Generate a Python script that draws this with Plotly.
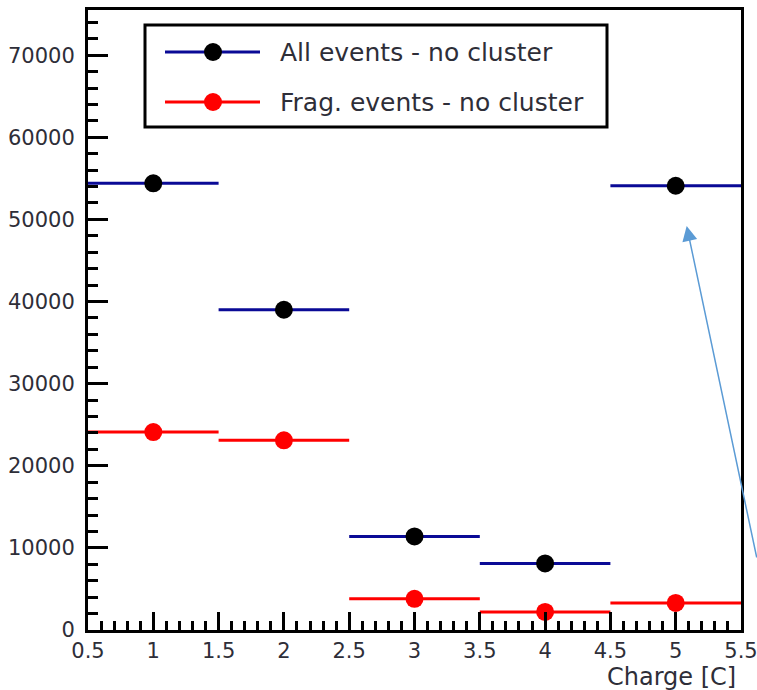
import plotly.graph_objects as go

# Charge bins (bin centres) and bin half-width
charge = [1, 2, 3, 4, 5]
bin_half_width = [0.5, 0.5, 0.5, 0.5, 0.5]

# Event counts per charge bin
all_events = [54400, 39000, 11400, 8100, 54100]
frag_events = [24100, 23100, 3800, 2200, 3300]

series_names = ["All events - no cluster", "Frag. events - no cluster"]

x_tick_vals = [0.5, 1, 1.5, 2, 2.5, 3, 3.5, 4, 4.5, 5, 5.5]
x_tick_text = ["0.5", "1", "1.5", "2", "2.5", "3", "3.5", "4", "4.5", "5", "5.5"]
y_tick_vals = [0, 10000, 20000, 30000, 40000, 50000, 60000, 70000]
y_tick_text = ["0", "10000", "20000", "30000", "40000", "50000", "60000", "70000"]

W, H = 757, 690
L, R, T, B = 88, 16, 10, 60
PW, PH = W - L - R, H - T - B

FONT = "DejaVu Sans"
TEXT_COLOR = "#2e2e38"
NAVY = "#0a0a96"
RED = "#ff0000"


def px_x(p):
    """Horizontal pixel position -> paper coordinate."""
    return (p - L) / PW


def px_y(p):
    """Vertical pixel position -> paper coordinate."""
    return (H - B - p) / PH


fig = go.Figure()

styles = [
    (all_events, NAVY, "#000000", series_names[0]),
    (frag_events, RED, RED, series_names[1]),
]
for values, line_col, mark_col, name in styles:
    fig.add_trace(go.Scatter(
        x=charge, y=values, mode="markers", name=name, showlegend=False,
        marker=dict(color=mark_col, size=18, line=dict(width=0)),
        error_x=dict(type="data", array=bin_half_width, symmetric=True,
                     color=line_col, thickness=3, width=0),
    ))

axis_common = dict(
    showline=True, linewidth=3, linecolor="black", mirror=True,
    ticks="inside", tickwidth=3, tickcolor="black",
    showgrid=False, zeroline=False,
    tickfont=dict(family=FONT, size=21, color=TEXT_COLOR),
    ticklabeloverflow="allow", automargin=False,
)

fig.update_xaxes(
    range=[0.5, 5.5], tickmode="array", tickvals=x_tick_vals, ticktext=x_tick_text,
    ticklen=18,
    minor=dict(dtick=0.1, tick0=0.5, ticks="inside", ticklen=9, tickwidth=2.5,
               tickcolor="black", showgrid=False),
    **axis_common,
)
fig.update_yaxes(
    range=[0, 75500], tickmode="array", tickvals=y_tick_vals, ticktext=y_tick_text,
    ticklen=20, ticklabelstandoff=6,
    minor=dict(dtick=2000, tick0=0, ticks="inside", ticklen=10, tickwidth=2.5,
               tickcolor="black", showgrid=False),
    **axis_common,
)

# Legend box drawn with shapes
shapes = [dict(type="rect", xref="paper", yref="paper",
               x0=px_x(145), x1=px_x(607), y0=px_y(127), y1=px_y(25),
               line=dict(color="black", width=3), fillcolor="white", layer="above")]
annotations = []
for (values, line_col, mark_col, name), row_y in zip(styles, [52, 102]):
    yy = px_y(row_y)
    shapes.append(dict(type="line", xref="paper", yref="paper",
                       x0=px_x(165), x1=px_x(260), y0=yy, y1=yy,
                       line=dict(color=line_col, width=3), layer="above"))
    shapes.append(dict(type="circle", xref="paper", yref="paper",
                       xsizemode="pixel", ysizemode="pixel",
                       xanchor=px_x(213), yanchor=yy,
                       x0=-9, x1=9, y0=-9, y1=9,
                       fillcolor=mark_col, line=dict(width=0), layer="above"))
    annotations.append(dict(text=name, xref="paper", yref="paper",
                            x=px_x(278), y=yy, xanchor="left", yanchor="middle",
                            showarrow=False,
                            font=dict(family=FONT, size=25, color=TEXT_COLOR)))

# Axis title, right-aligned under the axis
annotations.append(dict(text="Charge [C]", xref="paper", yref="paper",
                        x=px_x(738), y=px_y(677), xanchor="right", yanchor="middle",
                        showarrow=False,
                        font=dict(family=FONT, size=24, color=TEXT_COLOR)))

# Pointer arrow towards the last bin of the first series
annotations.append(dict(text="", x=5.084, y=49200, xref="x", yref="y",
                        showarrow=True, ax=75, ay=333,
                        arrowcolor="#5b9bd5", arrowwidth=1.5,
                        arrowhead=2, arrowsize=2, standoff=0))

fig.update_layout(
    width=W, height=H,
    margin=dict(l=L, r=R, t=T, b=B, pad=0, autoexpand=False),
    paper_bgcolor="white", plot_bgcolor="white",
    shapes=shapes, annotations=annotations,
    showlegend=False,
)

fig.write_html("out.html")
